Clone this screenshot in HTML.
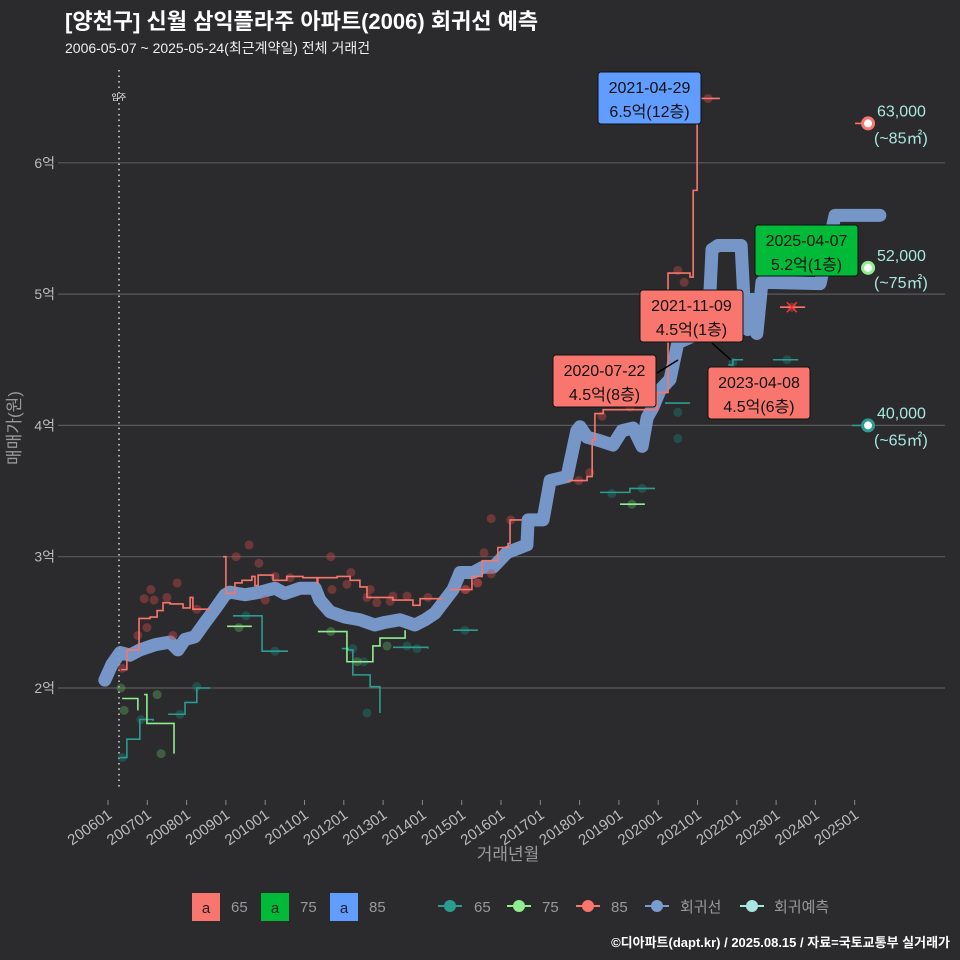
<!DOCTYPE html>
<html><head><meta charset="utf-8">
<style>
body{margin:0;background:#2b2b2d;}
svg{display:block;font-family:"Liberation Sans","Noto Sans CJK KR",sans-serif;}
</style></head>
<body>
<svg id="chart" width="960" height="960" viewBox="0 0 960 960">
<rect width="960" height="960" fill="#2b2b2d"/>
<text x="65" y="29" fill="#ffffff" font-size="22" font-weight="bold">[양천구] 신월 삼익플라주 아파트(2006) 회귀선 예측</text>
<text x="65" y="53" fill="#eeeeee" font-size="14">2006-05-07 ~ 2025-05-24(최근계약일) 전체 거래건</text>
<g id="grid"></g>
<g id="yaxis"></g>
<g id="xaxis"></g>
<line x1="119" y1="70" x2="119" y2="790" stroke="#dddddd" stroke-width="1.5" stroke-dasharray="1.5,4"/>
<text x="119" y="100" fill="#ffffff" font-size="8" text-anchor="middle">입주</text>
<g id="marks"></g>
<g id="labels"></g>
<text transform="translate(20,428) rotate(-90)" fill="#999999" font-size="17" text-anchor="middle">매매가(원)</text>
<text x="508" y="860" fill="#999999" font-size="17" text-anchor="middle">거래년월</text>
<g font-size="15" fill="#999999">
<rect x="192" y="893" width="28" height="28" fill="#f8766d"/>
<text x="206" y="913" fill="#222" text-anchor="middle">a</text>
<text x="231" y="912">65</text>
<rect x="261" y="893" width="28" height="28" fill="#00ba38"/>
<text x="275" y="913" fill="#222" text-anchor="middle">a</text>
<text x="300" y="912">75</text>
<rect x="330" y="893" width="28" height="28" fill="#619cff"/>
<text x="344" y="913" fill="#222" text-anchor="middle">a</text>
<text x="369" y="912">85</text>
<g><line x1="438" y1="906" x2="462" y2="906" stroke="#2a9d8f" stroke-width="2"/><circle cx="450" cy="906" r="6" fill="#2a9d8f"/></g>
<text x="474" y="912">65</text>
<g><line x1="507" y1="906" x2="531" y2="906" stroke="#90ee90" stroke-width="2"/><circle cx="519" cy="906" r="6" fill="#90ee90"/></g>
<text x="542" y="912">75</text>
<g><line x1="576" y1="906" x2="600" y2="906" stroke="#f8766d" stroke-width="2"/><circle cx="588" cy="906" r="6" fill="#f8766d"/></g>
<text x="611" y="912">85</text>
<g><line x1="645" y1="906" x2="669" y2="906" stroke="#7b9cd1" stroke-width="2"/><circle cx="657" cy="906" r="6" fill="#7b9cd1"/></g>
<text x="680" y="912">회귀선</text>
<g><line x1="740" y1="906" x2="764" y2="906" stroke="#a8e6e0" stroke-width="2"/><circle cx="752" cy="906" r="6" fill="#a8e6e0"/></g>
<text x="774" y="912">회귀예측</text>
</g>
<text x="950" y="947" fill="#ffffff" font-size="13" font-weight="bold" text-anchor="end">©디아파트(dapt.kr) / 2025.08.15 / 자료=국토교통부 실거래가</text>
</svg>
<script>
const yTicks=[2,3,4,5,6];
const yTickLabels=["2억","3억","4억","5억","6억"];
const xTickYears=[2006,2007,2008,2009,2010,2011,2012,2013,2014,2015,2016,2017,2018,2019,2020,2021,2022,2023,2024,2025];
const xTickLabels=["200601","200701","200801","200901","201001","201101","201201","201301","201401","201501","201601","201701","201801","201901","202001","202101","202201","202301","202401","202501"];
const regYears=[2005.92,2006.10,2006.31,2006.56,2006.81,2007.20,2007.58,2007.78,2007.96,2008.21,2008.47,2008.72,2008.98,2009.10,2009.49,2009.87,2010.25,2010.50,2010.89,2011.27,2011.39,2011.65,2012.03,2012.41,2012.79,2013.05,2013.43,2013.81,2014.07,2014.32,2014.78,2014.96,2015.29,2015.54,2015.80,2016.15,2016.66,2016.69,2017.07,2017.25,2017.68,2017.93,2018.01,2018.19,2018.44,2018.85,2019.08,2019.36,2019.59,2019.72,2019.87,2020.05,2020.30,2020.50,2021.27,2021.37,2021.52,2022.11,2022.21,2022.28,2022.39,2022.51,2022.64,2024.12,2024.50,2025.64];
const regValues=[2.06,2.18,2.27,2.25,2.29,2.33,2.35,2.29,2.37,2.39,2.50,2.60,2.71,2.73,2.71,2.73,2.76,2.72,2.76,2.76,2.67,2.58,2.54,2.52,2.48,2.50,2.52,2.48,2.52,2.57,2.75,2.88,2.88,2.92,2.92,3.03,3.09,3.28,3.28,3.58,3.61,3.96,3.99,3.91,3.89,3.85,3.96,3.98,3.84,4.06,4.14,4.27,4.35,4.63,4.73,5.34,5.37,5.37,4.80,4.73,4.96,4.70,5.09,5.08,5.60,5.60];
const red85Years=[2006.33,2006.48,2006.79,2007.07,2007.25,2007.40,2007.58,2007.91,2008.09,2008.16,2008.60,2008.93,2009.00,2009.23,2009.41,2009.66,2009.74,2009.82,2010.20,2010.55,2010.96,2011.32,2011.34,2011.83,2012.16,2012.41,2012.59,2013.25,2013.76,2013.94,2014.50,2014.70,2015.14,2015.26,2015.52,2015.77,2015.92,2016.18,2016.23,2016.53,2017.70,2018.19,2018.32,2018.39,2018.60,2019.92,2019.97,2020.17,2020.25,2020.81,2020.89,2020.99,2021.57,2023.10,2023.74,2025.01,2025.34];
const red85Values=[2.14,2.29,2.53,2.54,2.59,2.65,2.64,2.61,2.69,2.60,2.60,3.00,2.72,2.80,2.82,2.85,2.78,2.86,2.82,2.85,2.84,2.80,2.84,2.85,2.82,2.77,2.69,2.67,2.63,2.68,2.69,2.75,2.75,2.85,2.97,2.97,3.07,3.10,3.28,3.28,3.58,3.61,3.89,4.09,4.12,4.12,4.25,4.25,5.16,5.13,5.79,6.49,6.49,4.90,4.90,6.30,6.30];
const red85Seg=[0,0,0,0,0,0,0,0,0,0,0,1,1,1,1,1,1,1,1,1,1,1,1,1,1,1,1,1,1,1,1,2,2,2,2,2,2,2,2,2,3,3,3,3,3,3,3,3,3,3,3,3,3,4,4,5,5];
const teal65Years=[2006.31,2006.48,2006.64,2006.81,2007.15,2007.53,2007.88,2007.96,2008.21,2008.26,2008.60,2009.18,2009.84,2009.92,2010.58,2011.95,2012.11,2012.23,2012.59,2012.67,2012.87,2012.92,2013.25,2014.14,2014.78,2015.41,2018.52,2019.21,2019.28,2019.92,2020.17,2020.81,2021.78,2021.90,2022.16,2022.92,2023.56,2024.93,2025.34];
const teal65Values=[1.47,1.61,1.61,1.76,1.75,1.80,1.80,1.89,1.89,2.00,2.00,2.55,2.55,2.28,2.28,2.30,2.29,2.10,2.10,2.01,2.01,1.81,2.31,2.30,2.44,2.44,3.49,3.49,3.52,3.52,4.17,4.17,4.46,4.50,4.50,4.50,4.50,4.00,4.00];
const teal65Seg=[0,0,0,0,0,1,1,1,1,1,1,2,2,2,2,3,3,3,3,3,3,3,4,4,5,5,6,6,6,6,7,7,8,8,8,9,9,10,10];
const green75Years=[2006.36,2006.61,2006.76,2006.92,2006.99,2007.58,2007.68,2009.03,2009.66,2011.34,2011.95,2012.08,2012.67,2012.74,2012.92,2013.43,2013.56,2019.03,2019.66];
const green75Values=[1.92,1.92,1.83,1.95,1.73,1.73,1.50,2.47,2.47,2.43,2.43,2.20,2.20,2.32,2.38,2.38,2.44,3.40,3.40];
const green75Seg=[0,0,0,1,1,1,1,2,2,3,3,3,3,3,3,3,3,4,4];
const red85PtYears=[2009.59,2009.26,2009.84,2011.67,2012.18,2012.08,2011.70,2012.67,2012.59,2012.84,2013.25,2013.61,2013.18,2014.14,2015.08,2015.39,2007.76,2007.09,2006.92,2007.17,2007.50,2006.99,2006.76,2007.65,2008.26,2010.25,2010.63,2010.00,2006.36,2015.75,2016.25,2015.57,2015.75,2015.41,2015.11,2017.98,2018.26,2018.57,2019.28,2020.50,2020.66,2021.27,2023.40];
const red85PtValues=[3.09,3.00,2.95,3.00,2.88,2.79,2.75,2.75,2.69,2.65,2.70,2.70,2.66,2.69,2.75,2.80,2.80,2.75,2.68,2.67,2.69,2.46,2.40,2.40,2.60,2.85,2.84,2.67,2.15,3.29,3.28,3.03,2.87,2.80,2.75,3.58,3.64,4.07,4.14,5.18,5.09,6.49,4.90];
const teal65PtYears=[2006.36,2006.84,2007.83,2008.26,2009.51,2010.25,2012.23,2012.51,2012.59,2013.61,2013.86,2015.08,2018.82,2019.59,2020.50,2020.50,2021.90,2023.28];
const teal65PtValues=[1.47,1.76,1.80,2.01,2.55,2.28,2.30,2.20,1.81,2.32,2.30,2.44,3.48,3.52,4.10,3.90,4.48,4.50];
const green75PtYears=[2006.33,2006.41,2007.25,2007.35,2009.33,2011.67,2012.34,2013.10,2019.33];
const green75PtValues=[2.00,1.83,1.95,1.50,2.46,2.43,2.20,2.32,3.40];
const fcYear=2025.34;
const fcValues=[6.30,5.20,4.00];
const fcPrices=["63,000","52,000","40,000"];
const fcAreas=["(~85㎡)","(~75㎡)","(~65㎡)"];
const fcColors=["#f8766d","#90ee90","#2a9d8f"];

const NS="http://www.w3.org/2000/svg";
function X(yr){return 108+(yr-2006)*39.3;}
function Y(v){return 688-(v-2)*131.3;}
function mk(tag,attrs,parent){const e=document.createElementNS(NS,tag);for(const k in attrs)e.setAttribute(k,attrs[k]);parent.appendChild(e);return e;}
const grid=document.getElementById('grid'),yax=document.getElementById('yaxis'),xax=document.getElementById('xaxis'),marks=document.getElementById('marks'),labels=document.getElementById('labels');
yTicks.forEach((v,i)=>{
  const l=mk('line',{x1:58,x2:945,y1:Y(v),y2:Y(v),stroke:'#5a5a5c','stroke-width':1.2},grid);
  
  
  const t=mk('text',{x:55,y:Y(v)+5,fill:'#bbbbbb','font-size':14,'text-anchor':'end'},yax);
  t.textContent=yTickLabels[i];
  
  
});
xTickYears.forEach((yr,i)=>{
  const x=X(yr);
  const tk=mk('line',{x1:x,x2:x,y1:800,y2:805,stroke:'#888','stroke-width':1},xax);
  
  
  const t=mk('text',{transform:`translate(${x+5},${817}) rotate(-35)`,fill:'#bbbbbb','font-size':15,'text-anchor':'end'},xax);
  t.textContent=xTickLabels[i];
  
  
});
const rp=regYears.map((yr,i)=>`${X(yr)},${Y(regValues[i])}`).join(' ');
const reg=mk('polyline',{points:rp,fill:'none',stroke:'#7b9cd1','stroke-width':13,'stroke-linejoin':'round','stroke-linecap':'round','stroke-opacity':0.95},marks);


function segLines(years,vals,seg,color,name,w){
  const groups={};
  years.forEach((yr,i)=>{
    const g=(groups[seg[i]]=groups[seg[i]]||[]);
    const x=X(yr),y=Y(vals[i]);
    if(g.length){const prevY=g[g.length-1][1];g.push([x,prevY]);}
    g.push([x,y]);
  });
  Object.keys(groups).forEach(k=>{
    const p=mk('polyline',{points:groups[k].map(q=>q.join(',')).join(' '),fill:'none',stroke:color,'stroke-width':w},marks);
    
    
  });
}
function pts(years,vals,color,name){
  years.forEach((yr,i)=>{
    const c=mk('circle',{cx:X(yr),cy:Y(vals[i]),r:4.5,fill:color,'fill-opacity':0.45},marks);
    
    
  });
}
pts(red85PtYears,red85PtValues,'#c04848','point-85');
pts(teal65PtYears,teal65PtValues,'#1f7a6e','point-65');
pts(green75PtYears,green75PtValues,'#5aa05a','point-75');
segLines(teal65Years,teal65Values,teal65Seg,'#2a9d8f','line-65',1.6);
segLines(green75Years,green75Values,green75Seg,'#90ee90','line-75',1.6);
segLines(red85Years,red85Values,red85Seg,'#f8766d','line-85',1.6);
const xm=mk('path',{d:`M${X(2023.40)-5},${Y(4.9)-5}L${X(2023.40)+5},${Y(4.9)+5}M${X(2023.40)-5},${Y(4.9)+5}L${X(2023.40)+5},${Y(4.9)-5}`,stroke:'#ff3030','stroke-width':1.5},marks);


fcValues.forEach((v,i)=>{
  const c=mk('circle',{cx:X(fcYear),cy:Y(v),r:5.5,fill:'#ffffff',stroke:fcColors[i],'stroke-width':3},marks);
  
  
  const t1=mk('text',{x:877,y:Y(v)-7,fill:'#a8e6e0','font-size':16},labels);
  t1.textContent=fcPrices[i];
  
  
  const t2=mk('text',{x:874,y:Y(v)+20,fill:'#a8e6e0','font-size':16},labels);
  t2.textContent=fcAreas[i];
  
  
});
const boxes=[
 {x:598,y:72,w:103,h:52,c:'#619cff',d:'2021-04-29',p:'6.5억(12층)'},
 {x:755,y:225,w:103,h:51,c:'#00ba38',d:'2025-04-07',p:'5.2억(1층)'},
 {x:640,y:290,w:103,h:52,c:'#f8766d',d:'2021-11-09',p:'4.5억(1층)'},
 {x:553,y:355,w:103,h:52,c:'#f8766d',d:'2020-07-22',p:'4.5억(8층)'},
 {x:708,y:367,w:102,h:52,c:'#f8766d',d:'2023-04-08',p:'4.5억(6층)'}
];
[[712,343,731,360],[657,373,678,360]].forEach(s=>{
  const l=mk('line',{x1:s[0],y1:s[1],x2:s[2],y2:s[3],stroke:'#000','stroke-width':1.5},labels);
  
  
});
boxes.forEach(b=>{
  const g=mk('g',{},labels);
  
  
  mk('rect',{x:b.x,y:b.y,width:b.w,height:b.h,rx:3,fill:b.c,stroke:'#111','stroke-width':1},g);
  const t1=mk('text',{x:b.x+b.w/2,y:b.y+21,'font-size':16,fill:'#111','text-anchor':'middle'},g);
  t1.textContent=b.d;
  const t2=mk('text',{x:b.x+b.w/2,y:b.y+45,'font-size':16,fill:'#111','text-anchor':'middle'},g);
  t2.textContent=b.p;
});
</script>
</body></html>
